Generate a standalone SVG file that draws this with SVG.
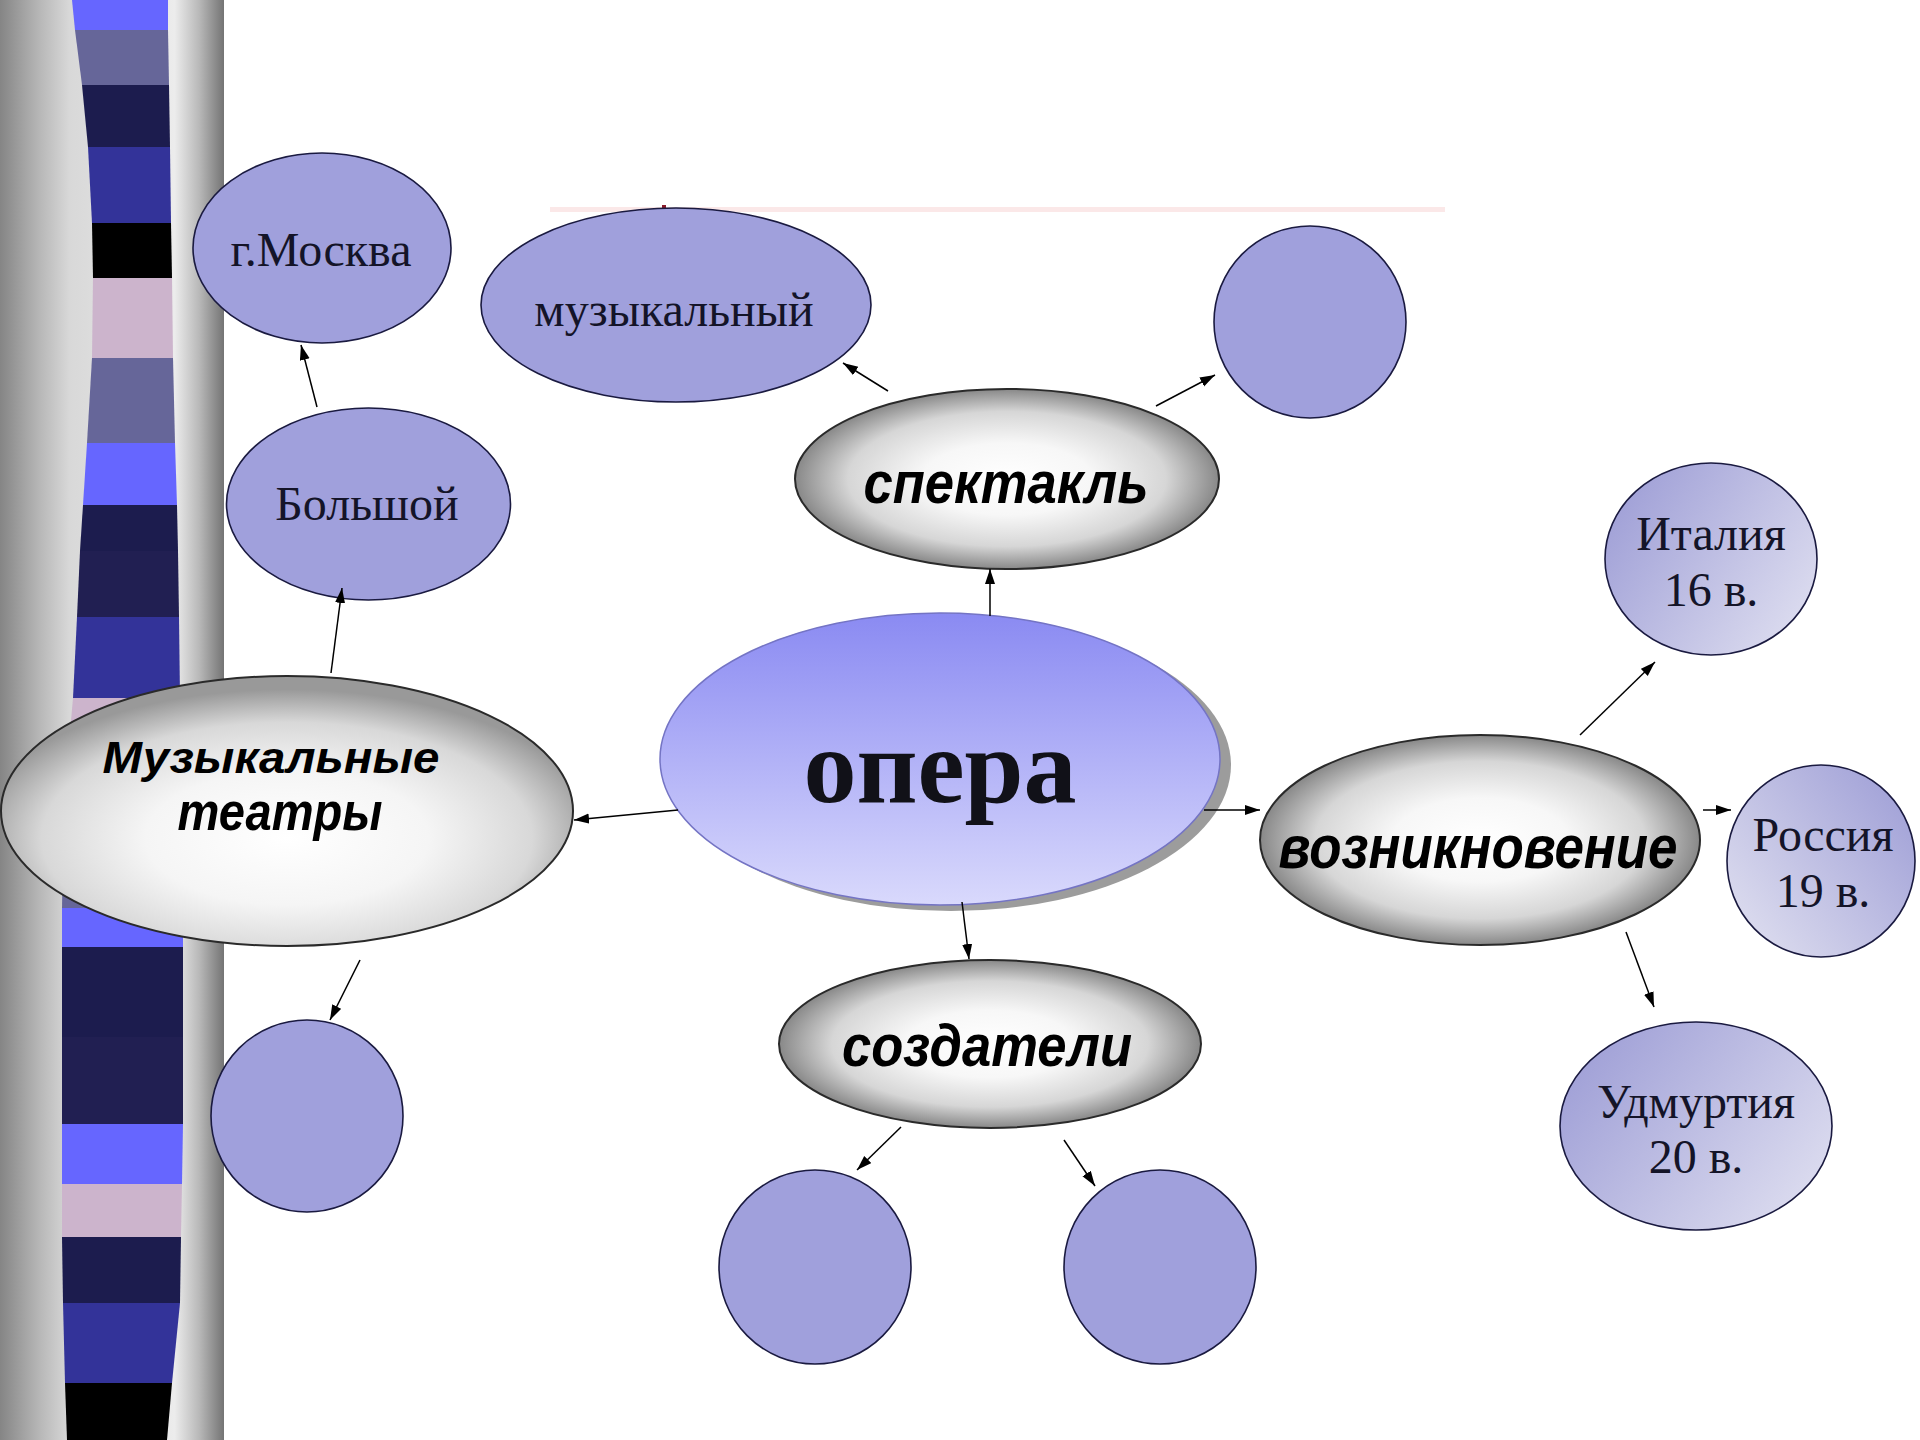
<svg xmlns="http://www.w3.org/2000/svg" width="1920" height="1440" viewBox="0 0 1920 1440">
<defs>
  <linearGradient id="colGrad" gradientUnits="userSpaceOnUse" x1="0" y1="0" x2="224" y2="0">
    <stop offset="0" stop-color="#858585"/>
    <stop offset="0.18" stop-color="#b8b8b8"/>
    <stop offset="0.31" stop-color="#d8d8d8"/>
    <stop offset="0.78" stop-color="#ececec"/>
    <stop offset="0.89" stop-color="#b8b8b8"/>
    <stop offset="1" stop-color="#747474"/>
  </linearGradient>
  <radialGradient id="grayRad" cx="0.5" cy="0.5" r="0.5">
    <stop offset="0" stop-color="#ffffff"/>
    <stop offset="0.4" stop-color="#f7f7f7"/>
    <stop offset="0.75" stop-color="#d6d6d6"/>
    <stop offset="1" stop-color="#888888"/>
  </radialGradient>
  <radialGradient id="grayRad2" cx="0.5" cy="0.6" r="0.55">
    <stop offset="0" stop-color="#ffffff"/>
    <stop offset="0.45" stop-color="#f5f5f5"/>
    <stop offset="0.78" stop-color="#d8d8d8"/>
    <stop offset="1" stop-color="#999999"/>
  </radialGradient>
  <linearGradient id="operaGrad" x1="0" y1="0" x2="0" y2="1">
    <stop offset="0" stop-color="#8a8af2"/>
    <stop offset="1" stop-color="#d9d9fc"/>
  </linearGradient>
  <linearGradient id="lavL2R" x1="0" y1="0.2" x2="1" y2="0.8">
    <stop offset="0" stop-color="#9e9ed6"/>
    <stop offset="1" stop-color="#dedef0"/>
  </linearGradient>
  <linearGradient id="lavR2L" x1="1" y1="0.1" x2="0" y2="0.9">
    <stop offset="0" stop-color="#9e9ed6"/>
    <stop offset="1" stop-color="#e0e0f0"/>
  </linearGradient>
  <marker id="arr" markerUnits="userSpaceOnUse" markerWidth="16" markerHeight="12" refX="15" refY="5" orient="auto">
    <path d="M0,0 L15,5 L0,10 z" fill="#000"/>
  </marker>
</defs>
<style>
  .lav { fill: #a0a0dc; stroke: #1a1a40; stroke-width: 1.6; }
  .lavg { stroke: #1a1a40; stroke-width: 1.6; }
  .gray { stroke: #2a2a2a; stroke-width: 2; }
  .serif { font-family: "Liberation Serif", "Times New Roman", serif; font-size: 48px; fill: #141428; text-anchor: middle; }
  .bi { font-family: "Liberation Sans", Arial, sans-serif; font-weight: bold; font-style: italic; fill: #000; text-anchor: middle; }
  .conn line { stroke: #000; stroke-width: 1.5; marker-end: url(#arr); }
</style>

<rect x="0" y="0" width="1920" height="1440" fill="#ffffff"/>

<g id="sidebar">
  <rect x="0" y="0" width="224" height="1440" fill="url(#colGrad)"/>
  <polygon points="72,0 168,0 168,30 75,30" fill="#6666ff"/>
  <polygon points="75,30 168,30 169,85 82,85" fill="#666699"/>
  <polygon points="82,85 169,85 170,147 88,147" fill="#1c1c4e"/>
  <polygon points="88,147 170,147 171,223 92,223" fill="#333399"/>
  <polygon points="92,223 171,223 172,278 93,278" fill="#000000"/>
  <polygon points="93,278 172,278 173,358 92,358" fill="#ccb4cc"/>
  <polygon points="92,358 173,358 175,443 87,443" fill="#666699"/>
  <polygon points="87,443 175,443 177,505 83,505" fill="#6666ff"/>
  <polygon points="83,505 177,505 178,551 80,551" fill="#1c1c4e"/>
  <polygon points="80,551 178,551 179,617 77,617" fill="#211f52"/>
  <polygon points="77,617 179,617 180,698 73,698" fill="#333399"/>
  <polygon points="73,698 180,698 182,800 64,800" fill="#ccb4cc"/>
  <polygon points="64,800 182,800 183,908 62,908" fill="#666699"/>
  <polygon points="62,908 183,908 183,947 62,947" fill="#6666ff"/>
  <polygon points="62,947 183,947 183,1037 62,1037" fill="#1c1c4e"/>
  <polygon points="62,1037 183,1037 183,1124 62,1124" fill="#211f52"/>
  <polygon points="62,1124 183,1124 182,1184 62,1184" fill="#6666ff"/>
  <polygon points="62,1184 182,1184 181,1237 62,1237" fill="#ccb4cc"/>
  <polygon points="62,1237 181,1237 180,1303 63,1303" fill="#1c1c4e"/>
  <polygon points="63,1303 180,1303 172,1383 65,1383" fill="#333399"/>
  <polygon points="65,1383 172,1383 167,1440 67,1440" fill="#000000"/>
</g>

<g id="title-trace">
  <rect x="550" y="207" width="895" height="5" fill="#fbe8e8"/>
  <rect x="662" y="205" width="4" height="8" fill="#8a1a2a"/>
</g>

<g id="node-moskva">
  <ellipse class="lav" cx="322" cy="248" rx="129" ry="95"/>
  <text class="serif" x="321" y="266">г.Москва</text>
</g>
<g id="node-muzykalny">
  <ellipse class="lav" cx="676" cy="305" rx="195" ry="97"/>
  <text class="serif" x="674" y="326">музыкальный</text>
</g>
<g id="node-bolshoi">
  <ellipse class="lav" cx="368.5" cy="504" rx="142" ry="96"/>
  <text class="serif" x="367" y="520">Большой</text>
</g>
<g id="node-empty-top">
  <ellipse class="lav" cx="1310" cy="322" rx="96" ry="96"/>
</g>
<g id="node-spektakl">
  <ellipse class="gray" fill="url(#grayRad)" cx="1007" cy="479" rx="212" ry="90"/>
  <text class="bi" x="1006" y="503" font-size="60" textLength="285" lengthAdjust="spacingAndGlyphs">спектакль</text>
</g>
<g id="node-opera">
  <ellipse cx="951" cy="765" rx="280" ry="146" fill="#9c9c9c"/>
  <ellipse cx="940" cy="759" rx="280" ry="146" fill="url(#operaGrad)" stroke="#7474c4" stroke-width="1.5"/>
  <text x="940" y="802" font-family="'Liberation Serif', 'Times New Roman', serif" font-weight="bold" font-size="106" fill="#111118" text-anchor="middle">опера</text>
</g>
<g id="node-teatry">
  <ellipse class="gray" fill="url(#grayRad2)" cx="287" cy="811" rx="286" ry="135"/>
  <text class="bi" x="271" y="773" font-size="44" textLength="337" lengthAdjust="spacingAndGlyphs">Музыкальные</text>
  <text class="bi" x="280" y="830" font-size="54" textLength="205" lengthAdjust="spacingAndGlyphs">театры</text>
</g>
<g id="node-empty-left">
  <ellipse class="lav" cx="307" cy="1116" rx="96" ry="96"/>
</g>
<g id="node-vozniknovenie">
  <ellipse class="gray" fill="url(#grayRad)" cx="1480" cy="840" rx="220" ry="105"/>
  <text class="bi" x="1478" y="868" font-size="62" textLength="399" lengthAdjust="spacingAndGlyphs">возникновение</text>
</g>
<g id="node-italia">
  <ellipse class="lavg" fill="url(#lavL2R)" cx="1711" cy="559" rx="106" ry="96"/>
  <text class="serif" x="1711" y="550">Италия</text>
  <text class="serif" x="1711" y="606">16 в.</text>
</g>
<g id="node-rossiya">
  <ellipse class="lavg" fill="url(#lavR2L)" cx="1821" cy="861" rx="94" ry="96"/>
  <text class="serif" x="1823" y="851">Россия</text>
  <text class="serif" x="1823" y="907">19 в.</text>
</g>
<g id="node-udmurtiya">
  <ellipse class="lavg" fill="url(#lavL2R)" cx="1696" cy="1126" rx="136" ry="104"/>
  <text class="serif" x="1696" y="1118">Удмуртия</text>
  <text class="serif" x="1696" y="1173">20 в.</text>
</g>
<g id="node-sozdateli">
  <ellipse class="gray" fill="url(#grayRad)" cx="990" cy="1044" rx="211" ry="84"/>
  <text class="bi" x="987" y="1066" font-size="60" textLength="290" lengthAdjust="spacingAndGlyphs">создатели</text>
</g>
<g id="node-empty-b1">
  <ellipse class="lav" cx="815" cy="1267" rx="96" ry="97"/>
</g>
<g id="node-empty-b2">
  <ellipse class="lav" cx="1160" cy="1267" rx="96" ry="97"/>
</g>

<g id="connectors" class="conn">
  <line x1="317" y1="407" x2="301" y2="345"/>
  <line x1="331" y1="673" x2="342" y2="588"/>
  <line x1="678" y1="810" x2="574" y2="820"/>
  <line x1="360" y1="960" x2="330" y2="1020"/>
  <line x1="990" y1="616" x2="990" y2="569"/>
  <line x1="888" y1="391" x2="843" y2="363"/>
  <line x1="1156" y1="406" x2="1215" y2="375"/>
  <line x1="1204" y1="810" x2="1260" y2="810"/>
  <line x1="1580" y1="735" x2="1655" y2="662"/>
  <line x1="1703" y1="810" x2="1731" y2="810"/>
  <line x1="1626" y1="932" x2="1654" y2="1007"/>
  <line x1="962" y1="902" x2="969" y2="959"/>
  <line x1="901" y1="1127" x2="857" y2="1170"/>
  <line x1="1064" y1="1140" x2="1095" y2="1186"/>
</g>
</svg>
